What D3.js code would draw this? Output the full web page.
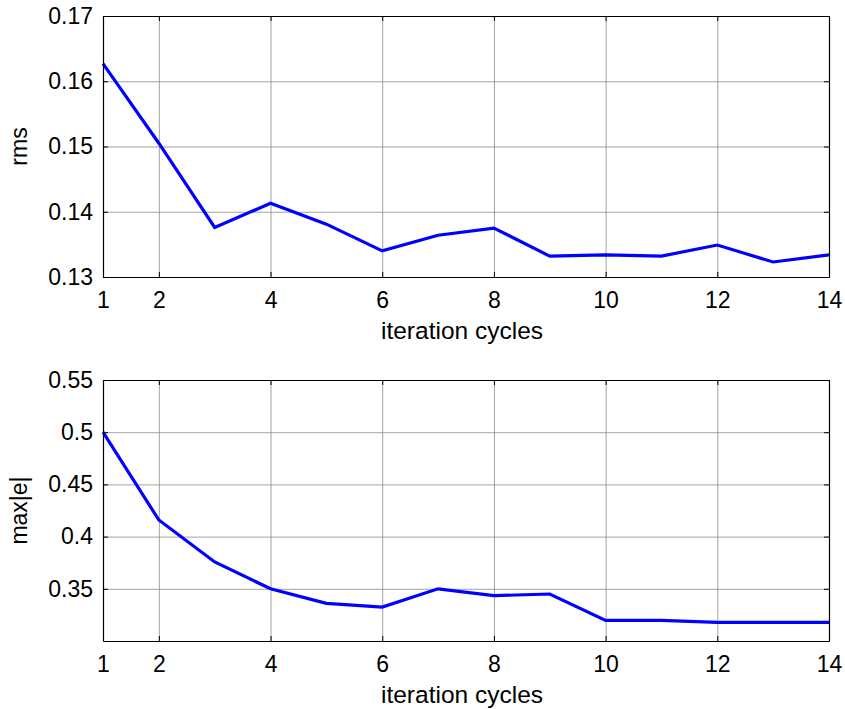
<!DOCTYPE html>
<html>
<head>
<meta charset="utf-8">
<script src="https://cdn.jsdelivr.net/npm/d3@7"></script>
<style>
  body { margin: 0; background: #fff; }
  svg { display: block; }
</style>
</head>
<body>
<div id="chart"></div>
<script>
// values
const cycles = [1, 2, 3, 4, 5, 6, 7, 8, 9, 10, 11, 12, 13, 14];
const rms = [0.1627, 0.1505, 0.1376, 0.1413, 0.1381, 0.1340, 0.1364, 0.1375, 0.1332, 0.1334, 0.1332, 0.1349, 0.1323, 0.1334];
const maxErr = [0.500, 0.4159, 0.3757, 0.350, 0.3361, 0.3325, 0.350, 0.3434, 0.345, 0.3198, 0.3198, 0.3179, 0.3179, 0.3179];

const xTicks = [1, 2, 4, 6, 8, 10, 12, 14];
const rmsTicks = [0.13, 0.14, 0.15, 0.16, 0.17];
const maxTicks = [0.35, 0.4, 0.45, 0.5, 0.55];

const xLabel = "iteration cycles";

const width = 845, height = 709;
const fontFamily = "'Liberation Sans', Arial, Helvetica, sans-serif";
const fontSize = "23px";
const labelSize = "24.5px";
const gridColour = "#8c8c8c";

const svg = d3.select("#chart")
    .append("svg")
    .attr("width", width)
    .attr("height", height);

function drawChart(svg, values, yLabel, yDomain, yTicks, box) {
    const x = d3.scaleLinear().domain([1, 14]).range([box.left, box.right]);
    const y = d3.scaleLinear().domain(yDomain).range([box.bottom, box.top]);
    const g = svg.append("g");
    const fmt = d3.format("~g");

    // grid
    g.append("g")
        .attr("transform", "translate(0," + box.bottom + ")")
        .call(d3.axisBottom(x).tickValues(xTicks).tickSize(-(box.bottom - box.top)).tickFormat(""))
        .call(s => s.select(".domain").remove())
        .selectAll("line").attr("stroke", gridColour).attr("stroke-width", 0.8);
    g.append("g")
        .attr("transform", "translate(" + box.left + ",0)")
        .call(d3.axisLeft(y).tickValues(yTicks).tickSize(-(box.right - box.left)).tickFormat(""))
        .call(s => s.select(".domain").remove())
        .selectAll("line").attr("stroke", gridColour).attr("stroke-width", 0.8);

    // the curve
    g.append("path")
        .datum(values)
        .attr("fill", "none")
        .attr("stroke", "#0000ff")
        .attr("stroke-width", 3.2)
        .attr("stroke-linejoin", "miter")
        .attr("d", d3.line().x((d, i) => x(cycles[i])).y(d => y(d)));

    // axes with inner ticks, MATLAB style
    const bottomAxis = g.append("g")
        .attr("transform", "translate(0," + box.bottom + ")")
        .call(d3.axisBottom(x).tickValues(xTicks).tickSizeInner(-5).tickSizeOuter(0).tickPadding(15).tickFormat(d3.format("d")));
    const leftAxis = g.append("g")
        .attr("transform", "translate(" + box.left + ",0)")
        .call(d3.axisLeft(y).tickValues(yTicks).tickSizeInner(-5).tickSizeOuter(0).tickPadding(10).tickFormat(fmt));
    const topAxis = g.append("g")
        .attr("transform", "translate(0," + box.top + ")")
        .call(d3.axisTop(x).tickValues(xTicks).tickSizeInner(-5).tickSizeOuter(0).tickFormat(""));
    const rightAxis = g.append("g")
        .attr("transform", "translate(" + box.right + ",0)")
        .call(d3.axisRight(y).tickValues(yTicks).tickSizeInner(-5).tickSizeOuter(0).tickFormat(""));

    [bottomAxis, leftAxis, topAxis, rightAxis].forEach(a => {
        a.select(".domain").attr("stroke", "#000").attr("stroke-width", 1.2);
        a.selectAll(".tick line").attr("stroke", "#000");
        a.selectAll("text")
            .style("font-family", fontFamily)
            .style("font-size", fontSize)
            .attr("fill", "#000");
    });

    g.append("text")
        .attr("x", (box.left + box.right) / 2 - 4)
        .attr("y", box.bottom + 62)
        .attr("text-anchor", "middle")
        .style("font-family", fontFamily)
        .style("font-size", labelSize)
        .text(xLabel);

    g.append("text")
        .attr("transform", "translate(27," + ((box.top + box.bottom) / 2) + ") rotate(-90)")
        .attr("text-anchor", "middle")
        .style("font-family", fontFamily)
        .style("font-size", fontSize)
        .text(yLabel);
}

drawChart(svg, rms, "rms", [0.13, 0.17], rmsTicks, { left: 103, right: 829, top: 16, bottom: 277 });
drawChart(svg, maxErr, "max|e|", [0.3, 0.55], maxTicks, { left: 103, right: 829, top: 380, bottom: 641 });
</script>
</body>
</html>
